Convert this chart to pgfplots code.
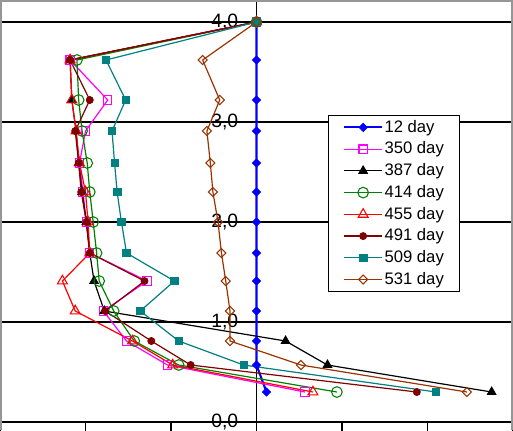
\documentclass[border=0pt]{standalone}
\usepackage{pgfplots}
\usepackage{pgfplotstable}
\pgfplotsset{compat=1.18}
\usepackage{fontspec}
\setmainfont{Liberation Sans}
\definecolor{cblue}{RGB}{0,0,255}
\definecolor{cmag}{RGB}{255,0,255}
\definecolor{cgreen}{RGB}{0,128,0}
\definecolor{cred}{RGB}{255,0,0}
\definecolor{cdred}{RGB}{128,0,0}
\definecolor{cteal}{RGB}{0,128,128}
\definecolor{cbrown}{RGB}{153,51,0}
\definecolor{cframe}{RGB}{150,150,150}

\pgfplotstableread{
d     s12    s350   s387   s414   s455   s491   s509   s531
4.00  0      0      0      0      0      0      0      0
3.62  0     -2.18  -2.18  -2.10  -2.18  -2.18  -1.76  -0.63
3.22  0     -1.74  -2.16  -2.08  -2.16  -1.95  -1.53  -0.43
2.91  0     -2.00  -2.11  -2.04  -2.11  -2.12  -1.69  -0.58
2.59  0     -2.07  -2.08  -1.98  -2.07  -2.08  -1.66  -0.54
2.30  0     -2.03  -2.04  -1.95  -2.00  -2.05  -1.63  -0.51
2.00  0     -1.99  -1.99  -1.91  -1.97  -1.99  -1.58  -0.45
1.69  0     -1.95  -1.95  -1.87  -1.95  -1.95  -1.52  -0.41
1.41  0     -1.28  -1.90  -1.84  -2.27  -1.31  -0.96  -0.36
1.11  0     -1.79  -1.78  -1.67  -2.12  -1.77  -1.36  -0.31
0.81  0     -1.52   0.34  -1.43  -1.45  -1.23  -0.91  -0.31
0.57  0     -1.04   0.83  -0.91  -0.98  -0.77  -0.15   0.52
0.30  0.117  0.566  2.75   0.94   0.66   1.875  2.10   2.46
}\data

\begin{document}
\begin{tikzpicture}
\begin{axis}[
  width=384.75pt, height=322.5pt, scale only axis,
  xmin=-3, xmax=3, ymin=-0.08, ymax=4.22,
  axis lines=middle,
  axis line style={-, black, line width=1.2pt},
  hide obscured x ticks=false, hide obscured y ticks=false,
  xtick={-3,-2,-1,0,1,2,3}, xticklabels={},
  ytick={0,1,2,3,4},
  tick align=outside,
  major tick length=8pt,
  xtick style={black, line width=1pt},
  ytick style={draw=none},
  ymajorgrids, grid style={black, line width=1.1pt},
  every y tick label/.append style={font=\fontsize{14.5}{16}\selectfont, anchor=east, inner sep=0pt, xshift=-5.5pt},
  yticklabel style={/pgf/number format/.cd, use comma, fixed, fixed zerofill, precision=1, assume math mode=true},
  legend style={at={(0.639,0.733)}, anchor=north west, draw=black, line width=0.9pt, fill=white,
    font=\fontsize{12.5}{14}\selectfont, inner xsep=11pt, inner ysep=1.5pt, row sep=1.3pt,
    nodes={inner sep=1pt, text height=10pt, text depth=3pt, anchor=west},
    /tikz/every even column/.append style={column sep=1.75pt}},
  legend cell align=left,
  legend image code/.code={\draw[mark repeat=2, mark phase=2] plot coordinates {(0pt,0pt) (14.25pt,0pt) (28.5pt,0pt)};},
]
\draw[cframe, line width=2.6pt] (rel axis cs:0,0) -- (rel axis cs:0,1) -- (rel axis cs:1,1) -- (rel axis cs:1,0);
\addplot[cblue, line width=1.6pt, mark=square*, mark size=2.2pt, mark options={solid, rotate=45, fill=cblue, line width=0.6pt}] table[x=s12, y=d] {\data};
\addlegendentry{12 day}
\addplot[color=cmag, line width=0.9pt, mark=square, mark size=3.1pt, mark options={solid, draw=cmag, line width=0.8pt}] table[x=s350, y=d] {\data};
\addlegendentry{350 day}
\addplot[black, line width=0.9pt, mark=triangle*, mark size=3.8pt, mark options={solid, fill=black, line width=0.6pt}] table[x=s387, y=d] {\data};
\addlegendentry{387 day}
\addplot[cgreen, line width=0.9pt, mark=o, mark size=4pt, mark options={solid, line width=0.8pt}] table[x=s414, y=d] {\data};
\addlegendentry{414 day}
\addplot[cred, line width=0.9pt, mark=triangle, mark size=4.3pt, mark options={solid, line width=0.8pt}] table[x=s455, y=d] {\data};
\addlegendentry{455 day}
\addplot[cdred, line width=0.9pt, mark=*, mark size=2.7pt, mark options={solid, fill=cdred, line width=0.5pt}] table[x=s491, y=d] {\data};
\addlegendentry{491 day}
\addplot[cteal, line width=0.9pt, mark=square*, mark size=2.8pt, mark options={solid, fill=cteal, line width=0.5pt}] table[x=s509, y=d] {\data};
\addlegendentry{509 day}
\addplot[cbrown, line width=0.9pt, mark=square, mark size=2.4pt, mark options={solid, rotate=45, line width=0.8pt}] table[x=s531, y=d] {\data};
\addlegendentry{531 day}
\coordinate (BL) at (rel axis cs:0,0);
\coordinate (TR) at (rel axis cs:1,1);
\end{axis}
\pgfresetboundingbox
\path[use as bounding box] (BL) rectangle (TR);
\end{tikzpicture}
\end{document}
